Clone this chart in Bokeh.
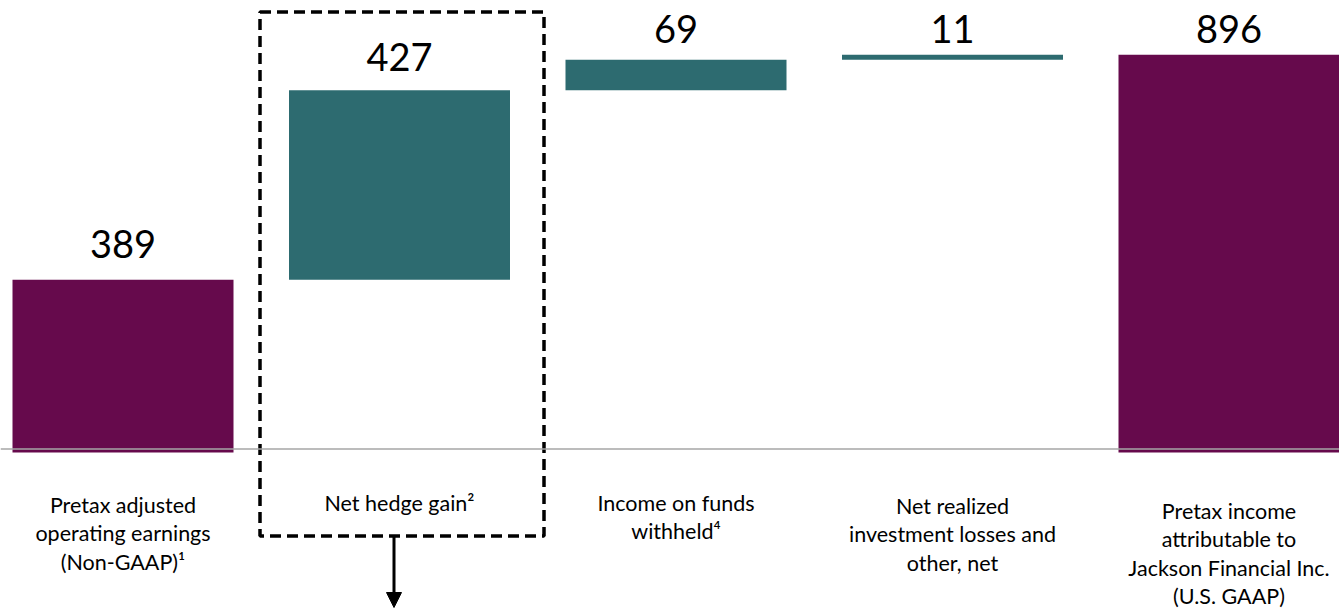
from bokeh.plotting import figure
from bokeh.models import ColumnDataSource, Arrow, NormalHead, Span
from bokeh.core.properties import value
from bokeh.embed import file_html
from bokeh.resources import INLINE

# ---- data ----
categories = [
    "Pretax adjusted\noperating earnings\n(Non-GAAP)\u00b9",
    "Net hedge gain\u00b2",
    "Income on funds\nwithheld\u2074",
    "Net realized\ninvestment losses and\nother, net",
    "Pretax income\nattributable to\nJackson Financial Inc.\n(U.S. GAAP)",
]
values = [389, 427, 69, 11, 896]
kinds = ["total", "delta", "delta", "delta", "total"]

PURPLE = "#660A4C"
TEAL = "#2D6B70"

# waterfall computation
bottoms, tops, colors = [], [], []
running = 0
for v, k in zip(values, kinds):
    if k == "total":
        bottoms.append(0)
        tops.append(v)
        running = v
        colors.append(PURPLE)
    else:
        bottoms.append(running)
        tops.append(running + v)
        running += v
        colors.append(TEAL)

# ---- layout (screen geometry) ----
W, H = 1339, 610
px_per_cat = 276.5
px_per_val = 0.4438
zero_px = 452
x0 = -122.5 / px_per_cat
y_top = zero_px / px_per_val
y_bot = -(H - zero_px) / px_per_val

label_gap_px = [36, 33, 31, 26, 26]
xs = list(range(len(values)))
label_y = [t + g / px_per_val for t, g in zip(tops, label_gap_px)]
src = ColumnDataSource(dict(x=xs, bottom=bottoms, top=tops, color=colors,
                            ly=label_y, label=[str(v) for v in values]))

p = figure(width=W, height=H, output_backend="svg", toolbar_location=None,
           x_range=(x0, x0 + W / px_per_cat), y_range=(y_bot, y_top),
           min_border=0)
p.axis.visible = False
p.grid.visible = False
p.outline_line_color = None
p.background_fill_color = "white"
p.border_fill_color = "white"

p.vbar(x="x", bottom="bottom", top="top", width=221 / px_per_cat,
       fill_color="color", line_color=None, source=src)

# baseline
p.add_layout(Span(location=7.9, dimension="width", line_color="#A6A6A6", line_width=1.5))

# value labels
p.text(x="x", y="ly", text="label", source=src, text_align="center",
       text_baseline="alphabetic",
       text_font=value("Lato"), text_font_size="38px", text_color="black")

# category labels
first_line_px = [491, 489, 489, 492, 497]
label_tops = [(zero_px - y) / px_per_val for y in first_line_px]
p.text(x=xs, y=label_tops, text=categories, text_align="center",
       text_baseline="top", text_line_height=1.1,
       text_font=value("Lato"), text_font_size="21.5px", text_color="black")

# dashed highlight box around hedge gain
box_top = (zero_px - 11.5) / px_per_val
box_bot = (zero_px - 535.5) / px_per_val
box_x = (401.5 - 122.5) / px_per_cat
p.rect(x=[box_x], y=[(box_top + box_bot) / 2], width=[284 / px_per_cat],
       height=[box_top - box_bot], fill_color=None, line_color="black",
       line_width=3.5, line_dash="11 6")

# arrow down
arrow_x = (393.5 - 122.5) / px_per_cat
p.add_layout(Arrow(end=NormalHead(size=15, fill_color="black", line_color="black"),
                   x_start=arrow_x, y_start=box_bot, x_end=arrow_x,
                   y_end=(zero_px - 607) / px_per_val,
                   line_color="black", line_width=3))

open("out.html", "w").write(file_html(p, INLINE))
